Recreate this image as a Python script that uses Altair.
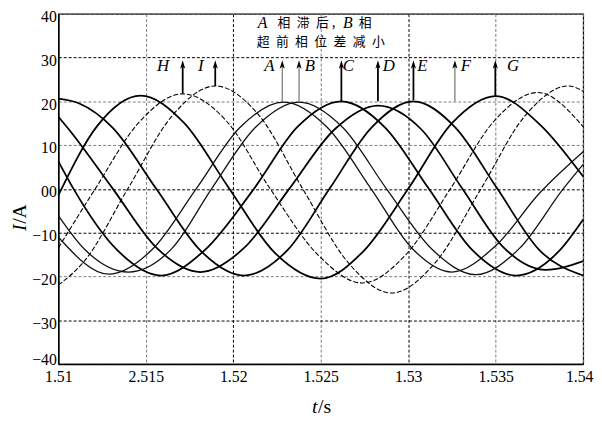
import altair as alt
import pandas as pd

# ---------------- curve data ----------------
c1_t = [1.5100, 1.51225, 1.5147, 1.5172, 1.5197, 1.52235, 1.5250, 1.52745, 1.5300, 1.5325, 1.5350, 1.5375, 1.5400]
c1_v = [-1.5, 14.5, 21.3, 15.0, 0.5, -14.5, -20.5, -14.2, 0.0, 15.0, 21.2, 14.8, 2.8]

c2_t = [1.5100, 1.51211, 1.51461, 1.51711, 1.51961, 1.52211, 1.52487, 1.52737, 1.52987, 1.53241, 1.53491, 1.53741, 1.5400]
c2_v = [-13.5, 0.0, 15.2, 21.7, 15.5, 0.0, -15.2, -21.5, -15.0, 0.0, 15.5, 22.0, 14.2]

c3_t = [1.5100, 1.51147, 1.51397, 1.51647, 1.51897, 1.52147, 1.52397, 1.52656, 1.52906, 1.53156, 1.53416, 1.53666, 1.53916, 1.5400]
c3_v = [-22.0, -16.6, 0.0, 16.5, 23.5, 16.8, 0.0, -16.8, -23.8, -16.8, 0.0, 16.6, 23.5, 22.3]

a_t = [1.5100, 1.51288, 1.51538, 1.51788, 1.52038, 1.52288, 1.52538, 1.52788, 1.5302, 1.5325, 1.5350, 1.5375, 1.5400]
a_v = [-11.0, -19.5, -13.8, 0.0, 14.0, 19.8, 14.0, 0.0, -13.5, -19.0, -13.0, -1.0, 8.5]

b_t = [1.5100, 1.5115, 1.5140, 1.5165, 1.51876, 1.52126, 1.52376, 1.52626, 1.52876, 1.53136, 1.53386, 1.53636, 1.53886, 1.5400]
b_v = [-6.1, -13.8, -19.0, -13.6, 0.0, 14.0, 19.8, 14.0, 0.0, -13.8, -19.6, -13.6, 0.0, 5.6]

c_t = [1.5100, 1.51087, 1.51337, 1.51587, 1.51837, 1.52118, 1.52368, 1.52618, 1.52868, 1.53118, 1.53367, 1.53617, 1.53867, 1.5400]
c_v = [6.3, 0.0, -14.0, -19.8, -14.0, 0.0, 14.2, 20.0, 14.0, 0.0, -14.0, -19.8, -14.0, -7.0]

d_t = [1.5100, 1.51062, 1.51312, 1.51562, 1.51812, 1.52062, 1.52320, 1.52577, 1.52827, 1.53077, 1.53310, 1.53536, 1.53786, 1.5400]
d_v = [16.5, 13.5, 0.0, -13.5, -19.0, -13.5, 0.0, 13.5, 19.0, 13.5, 0.0, -13.0, -18.5, -16.5]

e_t = [1.5100, 1.5112, 1.5131, 1.5156, 1.5181, 1.5206, 1.5231, 1.5255, 1.5279, 1.5303, 1.5327, 1.5351, 1.5375, 1.5400]
e_v = [20.6, 19.5, 14.0, 0.0, -14.0, -19.8, -14.0, 0.0, 14.0, 20.0, 14.0, 0.0, -14.0, -19.8]

curve_names = ["c1", "c2", "c3", "A", "B", "C", "D", "E"]
curve_t = [c1_t, c2_t, c3_t, a_t, b_t, c_t, d_t, e_t]
curve_v = [c1_v, c2_v, c3_v, a_v, b_v, c_v, d_v, e_v]

# ---------------- arrows / annotation ----------------
arrow_labels = ["H", "I", "A", "B", "C", "D", "E", "F", "G"]
arrow_t = [1.51711, 1.51897, 1.5228, 1.52376, 1.52618, 1.52827, 1.5303, 1.53267, 1.53498]
arrow_base = [21.8, 23.5, 20.0, 20.0, 20.0, 20.0, 20.3, 20.0, 21.2]
arrow_top = [28.3] * 9
label_t = [1.51598, 1.51815, 1.52207, 1.52438, 1.52658, 1.52889, 1.53081, 1.53329, 1.5360]
label_v = [28.0] * 9

SP = "\u2002"
note_text = ["A", "相" + SP + "滞" + SP + "后 ,", "B", "相",
             SP.join(list("超前相位差减小"))]
note_t = [1.52167, 1.52418, 1.52655, 1.52754, 1.5250]
note_v = [37.8, 37.8, 37.8, 37.8, 33.6]
note_italic = ["A", "B"]

x_ticks = [1.51, 1.515, 1.52, 1.525, 1.53, 1.535, 1.54]
y_ticks = [-40, -30, -20, -10, 0, 10, 20, 30, 40]

# ---------------- tables ----------------
frames = []
for name, ts, vs in zip(curve_names, curve_t, curve_v):
    frames.append(pd.DataFrame({"curve": name, "t": ts, "v": vs, "i": list(range(len(ts)))}))
df = pd.concat(frames, ignore_index=True)

arrows = pd.DataFrame({"label": arrow_labels, "t": arrow_t, "v": arrow_base, "v2": arrow_top,
                       "lt": label_t, "lv": label_v})
notes = pd.DataFrame({"text": note_text, "t": note_t, "v": note_v})

# ---------------- scales / axes ----------------
xscale = alt.Scale(domain=[1.51, 1.54], nice=False, zero=False)
yscale = alt.Scale(domain=[-40, 40], nice=False, zero=False)

x_axis = alt.Axis(
    values=x_ticks,
    labelExpr="abs(datum.value-1.515)<1e-6 ? '2.515' : format(datum.value, '.3~f')",
    grid=True, gridDash=[3, 2], gridWidth=1,
    gridColor={"condition": {"test": "abs(datum.value-1.52)<1e-6 || abs(datum.value-1.53)<1e-6",
                             "value": "#000000"}, "value": "#7a7a7a"},
    ticks=False, domainColor="#000000", domainWidth=1.6,
    labelFont="Liberation Serif", labelFontSize=16, labelColor="#000000",
    labelPadding=5, labelFlush=False, labelOverlap=False,
    labelOffset={"condition": {"test": "datum.value > 1.5395", "value": -4}, "value": 0},
    title=None,
)
y_axis = alt.Axis(
    values=y_ticks,
    labelExpr="datum.value == 0 ? '00' : (datum.value < 0 ? '\u2212' + abs(datum.value) : '' + datum.value)",
    grid=True, gridDash=[3, 2], gridWidth=1,
    gridColor={"condition": {"test": "datum.value == 30 || datum.value == 0 || datum.value == -10 || datum.value == -30",
                             "value": "#000000"}, "value": "#7a7a7a"},
    ticks=False, domainColor="#000000", domainWidth=1.6,
    labelFont="Liberation Serif", labelFontSize=16, labelColor="#000000",
    labelPadding=2, labelFlush=False, labelOverlap=False,
    labelOffset={"condition": {"test": "datum.value == -40", "value": -4}, "value": 3},
    title=None,
)

X = alt.X("t:Q", scale=xscale, axis=x_axis)
Y = alt.Y("v:Q", scale=yscale, axis=y_axis)

base = alt.Chart(df).encode(x=X, y=Y, detail="curve:N", order="i:Q")

thick = base.transform_filter(
    alt.FieldOneOfPredicate(field="curve", oneOf=["c1", "C", "D", "E"])
).mark_line(color="#000000", strokeWidth=1.8, interpolate="monotone")

medium = base.transform_filter(
    alt.FieldOneOfPredicate(field="curve", oneOf=["A", "B"])
).mark_line(color="#111111", strokeWidth=1.3, interpolate="monotone")

dashed = base.transform_filter(
    alt.FieldOneOfPredicate(field="curve", oneOf=["c2", "c3"])
).mark_line(color="#000000", strokeWidth=1.1, strokeDash=[5, 2], interpolate="monotone")

arr_base = alt.Chart(arrows)
bold_arrows = ["H", "I", "C", "D", "E", "G"]
rule_bold = arr_base.transform_filter(
    alt.FieldOneOfPredicate(field="label", oneOf=bold_arrows)
).mark_rule(color="#000000", strokeWidth=1.8).encode(x=X, y=Y, y2="v2:Q")
rule_thin = arr_base.transform_filter(
    {"not": alt.FieldOneOfPredicate(field="label", oneOf=bold_arrows)}
).mark_rule(color="#666666", strokeWidth=1.1).encode(x=X, y=Y, y2="v2:Q")
heads = arr_base.mark_point(
    shape="M0,-1L0.55,0.8L0,0.35L-0.55,0.8Z", filled=True, color="#000000",
    size=90, opacity=1, strokeWidth=0
).encode(x=X, y=alt.Y("v2:Q", scale=yscale, axis=y_axis))
arrow_text = arr_base.mark_text(font="Liberation Serif", fontStyle="italic", fontSize=17,
                                color="#000000").encode(
    x=alt.X("lt:Q", scale=xscale, axis=x_axis), y=alt.Y("lv:Q", scale=yscale, axis=y_axis), text="label:N"
)

note_base = alt.Chart(notes)
note_it = note_base.transform_filter(
    alt.FieldOneOfPredicate(field="text", oneOf=note_italic)
).mark_text(font="Liberation Serif", fontStyle="italic", fontSize=16, color="#000000").encode(
    x=X, y=Y, text="text:N")
note_cjk = note_base.transform_filter(
    {"not": alt.FieldOneOfPredicate(field="text", oneOf=note_italic)}
).mark_text(font="Noto Sans CJK SC", fontSize=13, color="#000000").encode(
    x=X, y=Y, text="text:N")

# axis titles (I/A and t/s, with italic variable letters)
ttl = alt.Chart(pd.DataFrame({"k": [0]}))
y_t1 = ttl.mark_text(text="I", font="Liberation Serif", fontStyle="italic", fontSize=20,
                     angle=270, color="#000000").encode(x=alt.value(-39), y=alt.value(217))
y_t2 = ttl.mark_text(text="/A", font="Liberation Serif", fontSize=20,
                     angle=270, color="#000000").encode(x=alt.value(-39), y=alt.value(203))
x_t1 = ttl.mark_text(text="t", font="Liberation Serif", fontStyle="italic", fontSize=20,
                     color="#000000").encode(x=alt.value(260), y=alt.value(399))
x_t2 = ttl.mark_text(text="/s", font="Liberation Serif", fontSize=20,
                     color="#000000").encode(x=alt.value(270), y=alt.value(399))

chart = alt.layer(
    thick, medium, dashed, rule_bold, rule_thin, heads, arrow_text, note_it, note_cjk,
    y_t1, y_t2, x_t1, x_t2
).properties(
    width=532, height=355,
    autosize=alt.AutoSizeParams(type="none"),
    padding={"left": 51, "top": 3, "right": 11, "bottom": 55},
    background="white",
).configure_view(stroke="#000000", strokeWidth=1.2)

chart.save("out.html", embed_options={"renderer": "svg", "actions": False})
